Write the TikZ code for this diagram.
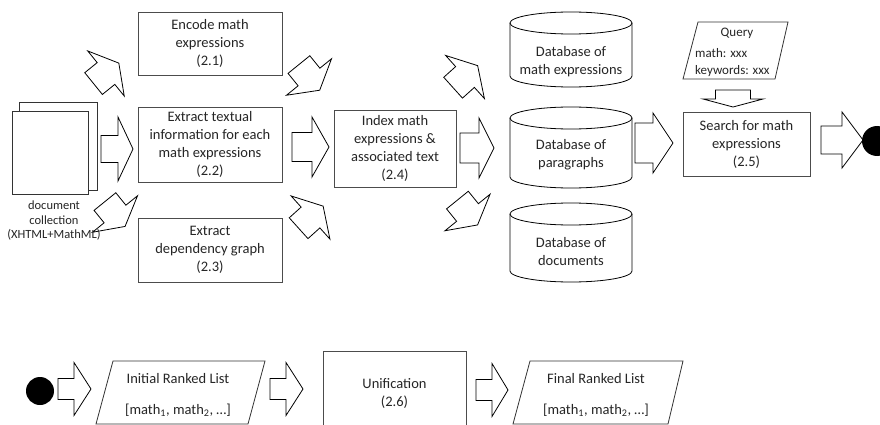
\documentclass[tikz,border=0pt]{standalone}
\usepackage{fontspec}
\setmainfont{Carlito}
\tikzset{
  procbox/.style={draw=black!70, line width=0.8pt, align=center, inner sep=0pt, text=black!85, font=\fontsize{14.5}{18}\selectfont},
  plaintext/.style={align=center, inner sep=0pt, text=black!85, font=\fontsize{14.5}{18}\selectfont},
  outline/.style={draw=black!80, line width=0.8pt},
  fatline/.style={draw=black, line width=0.8pt, line join=miter},
  pics/fatarrow/.style n args={4}{code={
    \path[fatline] (-#1,-#2) -- (0,-#2) -- (0,-#4) -- (#3,0) -- (0,#4) -- (0,#2) -- (-#1,#2) -- cycle;}},
}
\begin{document}
\begin{tikzpicture}[x=1pt,y=-1pt]
  \useasboundingbox (0,0) rectangle (880,425);
  \clip (0,0) rectangle (880,425);
  \fill[white] (0,0) rectangle (880,425);
  % document collection
  \draw[outline, fill=white] (19,102) rectangle (97,190);
  \node[outline, fill=white, minimum width=76, minimum height=83, inner sep=0pt] (doc) at (50,152.5) {};
  % processing steps
  \node[procbox, minimum width=144, minimum height=63] (encode) at (210,43.5) {Encode math\\expressions\\(2.1)};
  \node[procbox, minimum width=144, minimum height=75] (extract) at (210,144.5) {Extract textual\\information for each\\math expressions\\(2.2)};
  \node[procbox, minimum width=144, minimum height=64] (depgraph) at (210,250) {Extract\\dependency graph\\(2.3)};
  \node[procbox, minimum width=122, minimum height=77] (index) at (395,148.5) {Index math\\expressions \&\\associated text\\(2.4)};
  % databases
  \foreach \n/\t/\b/\ty/\txt in {1/12/87/61.5/{Database of\\math expressions},2/107/188/154.5/{Database of\\paragraphs},3/203/282/251.5/{Database of\\documents}} {
    \draw[outline, draw=black] (510,\t+11) -- (510,\b-11) arc[start angle=180, end angle=0, x radius=61, y radius=11] -- (632,\t+11);
    \draw[outline, draw=black] (571,\t+11) ellipse[x radius=61, y radius=11];
    \node[plaintext] (db\n) at (571,\ty) {\txt};
  }
  % query and search
  \draw[outline] (698,22) -- (788,22) -- (775,79) -- (683,79) -- cycle;
  \node[plaintext, font=\fontsize{13}{17}\selectfont] (qtitle) at (737,33) {Query};
  \node[plaintext, anchor=west, align=left, font=\fontsize{13}{17}\selectfont] (qterms) at (695,62.5) {math: xxx\\keywords: xxx};
  \node[procbox, minimum width=127, minimum height=64] (search) at (746.5,144) {Search for math\\expressions\\(2.5)};
  \node[circle, fill=black, minimum size=30, inner sep=0pt] (linkA) at (877,141) {};
  % second row
  \node[circle, fill=black, minimum size=28, inner sep=0pt] (linkB) at (40,391) {};
  \draw[outline] (113,361) -- (265,361) -- (248,424) -- (96,424) -- cycle;
  \node[plaintext] (initial) at (178,395) {Initial Ranked List\\[13pt][math\textsubscript{1}, math\textsubscript{2}, …]};
  \node[procbox, minimum width=143, minimum height=85] (unify) at (394.5,393.5) {Unification\\(2.6)};
  \draw[outline] (530,361) -- (683,361) -- (668,424) -- (513,424) -- cycle;
  \node[plaintext] (final) at (596,395) {Final Ranked List\\[13pt][math\textsubscript{1}, math\textsubscript{2}, …]};
  % block arrows
  \foreach \x/\y/\r/\a/\b/\c/\d in {106/73.5/39/16/14/16.5/29, 118/149/0/17/13.5/15/32, 115/214/-51/16/14/16/29,
      309/77/-51/16/14/17/29, 310.5/217.5/42/16/14/17/29, 312/147/0/20/14.5/17/30,
      465/77/42/16/14/17/29, 479/148/0/19/15/15/30, 467.5/212.5/-51/16/14/16/29,
      653/143/0/18/20/20/30, 733/99/-90/9/17.5/8/30, 842/140/0/21/14/21/28,
      74/389/0/16/10.5/17/26.5, 286/389/0/16/10.5/17/26.5, 492/390/0/16/10.5/16/26.5}
    \pic[rotate=\r] at (\x,\y) {fatarrow={\a}{\b}{\c}{\d}};
  \node[plaintext, font=\fontsize{12.5}{14.5}\selectfont] (doclabel) at (54,221) {document\\collection\\(XHTML+MathML)};
\end{tikzpicture}
\end{document}
